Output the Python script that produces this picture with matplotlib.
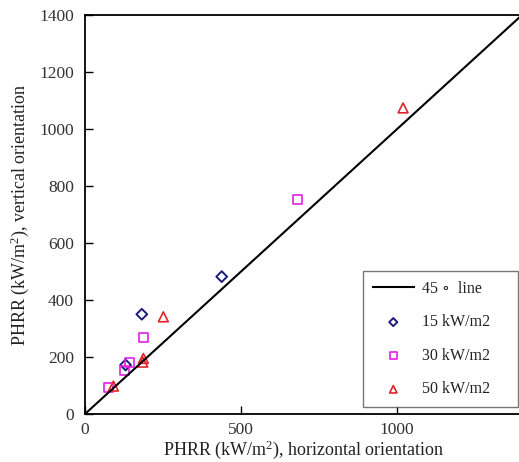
import matplotlib
matplotlib.use("Agg")
import matplotlib.pyplot as plt

plt.rcParams['font.family'] = ['Liberation Serif', 'DejaVu Serif']
plt.rcParams['mathtext.fontset'] = 'custom'
plt.rcParams['mathtext.rm'] = 'Liberation Serif'
plt.rcParams['mathtext.it'] = 'Liberation Serif:italic'

# PHRR values (kW/m2): horizontal vs vertical orientation
h15 = [130, 182, 438]
v15 = [172, 350, 482]
h30 = [75, 128, 142, 186, 680]
v30 = [94, 152, 182, 268, 751]
h50 = [91, 185, 187, 251, 1019]
v50 = [98, 182, 195, 341, 1074]

xticks = [0, 500, 1000]
yticks = [0, 200, 400, 600, 800, 1000, 1200, 1400]

fig = plt.figure(figsize=(5.19, 4.62), dpi=100)
ax = fig.add_axes([85/519, 48/462, 437/519, 399/462])

ax.plot([0, 1400], [0, 1400], color='black', lw=1.5, label='45 \u2218  line')
ax.scatter(h15, v15, marker='D', s=30, facecolors='none', edgecolors='#1c1c7a', linewidths=1.4, label='15 kW/m2')
ax.scatter(h30, v30, marker='s', s=42, facecolors='none', edgecolors='#e21fe6', linewidths=1.2, label='30 kW/m2')
ax.scatter(h50, v50, marker='^', s=50, facecolors='none', edgecolors='#e0262a', linewidths=1.2, label='50 kW/m2')

ax.set_xlim(0, 1400)
ax.set_ylim(0, 1400)
ax.set_xticks(xticks)
ax.set_yticks(yticks)
ax.tick_params(direction='in', length=6, width=1, labelsize=12.5, labelcolor='#333333', pad=8)
ax.tick_params(axis='x', pad=6)
for s in ax.spines.values():
    s.set_linewidth(1.3)

ax.set_xlabel('PHRR (kW/m$^2$), horizontal orientation', fontsize=13, color='#222222', labelpad=0)
ax.set_ylabel('PHRR (kW/m$^2$), vertical orientation', fontsize=13, color='#222222', labelpad=6)

leg = ax.legend(loc='lower left', bbox_to_anchor=(0.636, 0.0175, 0.355, 0.3), mode='expand',
                borderaxespad=0, fontsize=11.5, labelspacing=1.1, handlelength=2.6,
                handletextpad=0.5, borderpad=0.6, fancybox=False, frameon=True,
                edgecolor='#555555', scatterpoints=1, markerscale=0.75)
leg.get_frame().set_linewidth(1.0)
for t in leg.get_texts():
    t.set_color('#222222')

fig.savefig('out.png', dpi=100)
